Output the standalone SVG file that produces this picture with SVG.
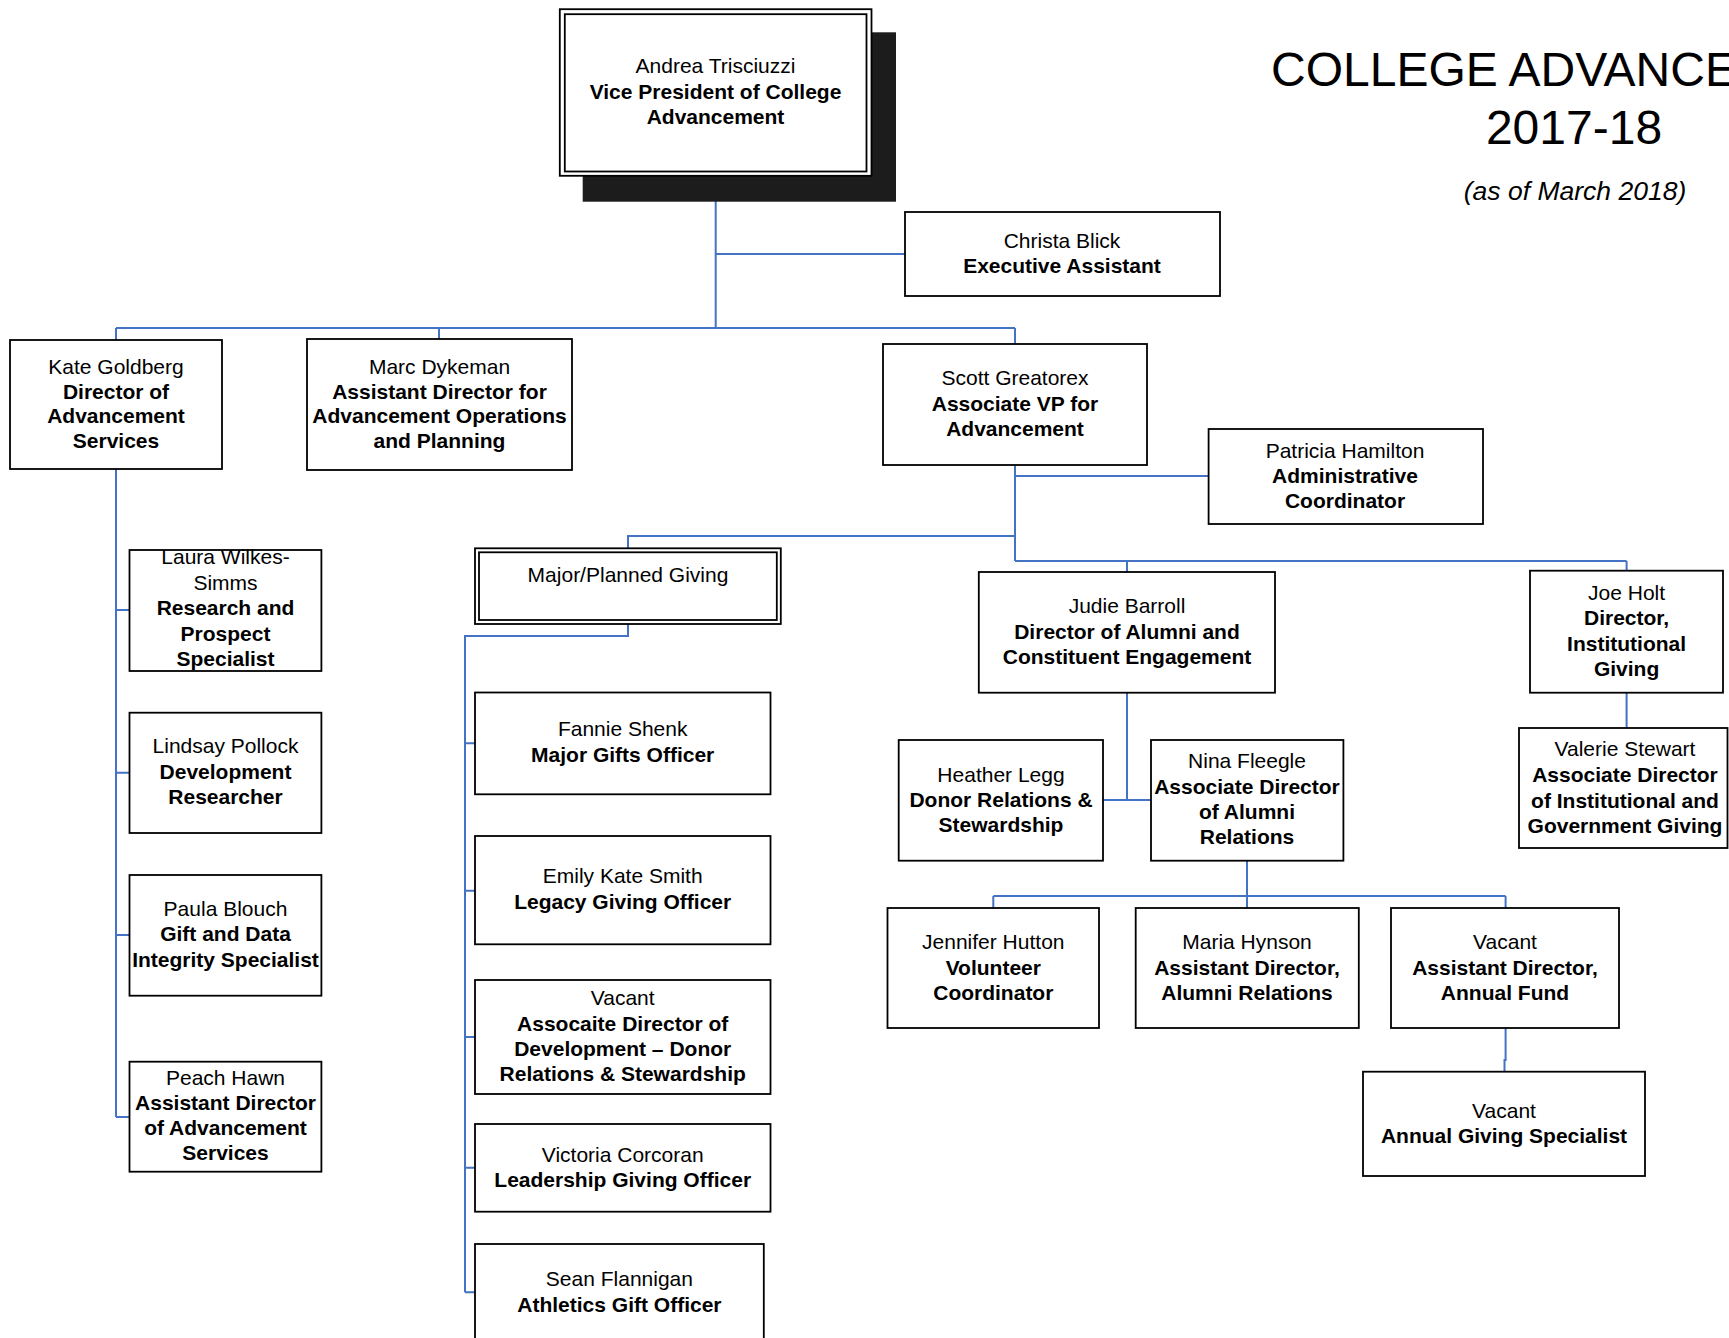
<svg xmlns="http://www.w3.org/2000/svg" width="1729" height="1338" viewBox="0 0 1729 1338">
<style>
.bx{fill:#fff;stroke:#000;stroke-width:1.8}
.in{fill:none;stroke:#000;stroke-width:1.8}
.c{fill:none;stroke:#4472C4;stroke-width:2}
text{font-family:"Liberation Sans",Arial,sans-serif;font-size:21px;text-anchor:middle;fill:#000}
.b{font-weight:bold}
</style>
<rect width="1729" height="1338" fill="#fff"/>
<g id="title">
<text x="1271" y="86" style="font-size:48px;text-anchor:start">COLLEGE ADVANCE</text>
<text x="1574" y="144" style="font-size:48px">2017-18</text>
<text x="1575" y="200" style="font-size:26.5px;font-style:italic">(as of March 2018)</text>
</g>
<g id="connectors">
<path class="c" d="M715.7 177V328M715.7 254H905M116 328H1015M116 328V340M439 328V339M1015 328V344"/>
<path class="c" d="M116 469V1117M116 610H129.5M116 772.7H129.5M116 935H129.5M116 1117H129.5"/>
<path class="c" d="M1015 465V561M1015 476H1208.6M1015 536H628V548.3M1015 561H1626.6M1127 561V572M1626.6 561V570.7"/>
<path class="c" d="M628 624V636H465V1292.3M465 743.3H475M465 890.7H475M465 1037H475M465 1167.7H475M465 1292.3H475"/>
<path class="c" d="M1127 692.7V800M1103 800H1151M1626.6 692.7V728"/>
<path class="c" d="M1247 860.7V896M993.3 896H1505.6M993.3 896V908M1247 896V908M1505.6 896V908M1505.6 1028V1060H1504.5V1071.7"/>
</g>
<g id="vp">
<rect x="582.7" y="32.3" width="313.3" height="169.4" fill="#1c1c1c"/>
<rect class="bx" x="559.8" y="9.2" width="311.7" height="166.6"/>
<rect class="in" x="564.8" y="14.2" width="301.7" height="157.3"/>
<text x="715.5" y="73.3">Andrea Trisciuzzi</text>
<text class="b" x="715.5" y="99">Vice President of College</text>
<text class="b" x="715.5" y="124">Advancement</text>
</g>
<g id="christa">
<rect class="bx" x="905" y="212" width="315" height="84"/>
<text x="1062" y="248">Christa Blick</text>
<text class="b" x="1062" y="272.7">Executive Assistant</text>
</g>
<g id="kate">
<rect class="bx" x="10" y="340" width="212" height="129"/>
<text x="116" y="374">Kate Goldberg</text>
<text class="b" x="116" y="398.5">Director of</text>
<text class="b" x="116" y="423">Advancement</text>
<text class="b" x="116" y="448">Services</text>
</g>
<g id="marc">
<rect class="bx" x="307" y="339" width="265" height="131"/>
<text x="439.5" y="374">Marc Dykeman</text>
<text class="b" x="439.5" y="398.5">Assistant Director for</text>
<text class="b" x="439.5" y="423">Advancement Operations</text>
<text class="b" x="439.5" y="448">and Planning</text>
</g>
<g id="scott">
<rect class="bx" x="883" y="344" width="264" height="121"/>
<text x="1015" y="385">Scott Greatorex</text>
<text class="b" x="1015" y="410.7">Associate VP for</text>
<text class="b" x="1015" y="436">Advancement</text>
</g>
<g id="patricia">
<rect class="bx" x="1208.6" y="429" width="274.4" height="95"/>
<text x="1345" y="458">Patricia Hamilton</text>
<text class="b" x="1345" y="483">Administrative</text>
<text class="b" x="1345" y="508">Coordinator</text>
</g>
<g id="laura">
<rect class="bx" x="129.5" y="550" width="191.9" height="121"/>
<text x="225.5" y="564">Laura Wilkes-</text>
<text x="225.5" y="589.5">Simms</text>
<text class="b" x="225.5" y="615">Research and</text>
<text class="b" x="225.5" y="640.5">Prospect</text>
<text class="b" x="225.5" y="666">Specialist</text>
</g>
<g id="lindsay">
<rect class="bx" x="129.5" y="712.7" width="191.9" height="120.3"/>
<text x="225.5" y="753">Lindsay Pollock</text>
<text class="b" x="225.5" y="779">Development</text>
<text class="b" x="225.5" y="804">Researcher</text>
</g>
<g id="paula">
<rect class="bx" x="129.5" y="875" width="191.9" height="120.7"/>
<text x="225.5" y="915.5">Paula Blouch</text>
<text class="b" x="225.5" y="941">Gift and Data</text>
<text class="b" x="225.5" y="966.5">Integrity Specialist</text>
</g>
<g id="peach">
<rect class="bx" x="129.5" y="1061.7" width="191.9" height="110"/>
<text x="225.5" y="1085">Peach Hawn</text>
<text class="b" x="225.5" y="1110">Assistant Director</text>
<text class="b" x="225.5" y="1135">of Advancement</text>
<text class="b" x="225.5" y="1160">Services</text>
</g>
<g id="mpg">
<rect class="bx" x="475" y="548.3" width="305.8" height="75.7"/>
<rect class="in" x="479" y="552.3" width="297.8" height="67.7"/>
<text x="628" y="581.5">Major/Planned Giving</text>
</g>
<g id="fannie">
<rect class="bx" x="475" y="692.5" width="295.5" height="101.8"/>
<text x="622.7" y="736">Fannie Shenk</text>
<text class="b" x="622.7" y="762">Major Gifts Officer</text>
</g>
<g id="emily">
<rect class="bx" x="475" y="836" width="295.5" height="108.3"/>
<text x="622.7" y="883.3">Emily Kate Smith</text>
<text class="b" x="622.7" y="909">Legacy Giving Officer</text>
</g>
<g id="vacant-add">
<rect class="bx" x="475" y="980" width="295.5" height="114"/>
<text x="622.7" y="1005">Vacant</text>
<text class="b" x="622.7" y="1030.7">Assocaite Director of</text>
<text class="b" x="622.7" y="1056">Development – Donor</text>
<text class="b" x="622.7" y="1081">Relations &amp; Stewardship</text>
</g>
<g id="victoria">
<rect class="bx" x="475" y="1124" width="295.5" height="87.7"/>
<text x="622.7" y="1161.7">Victoria Corcoran</text>
<text class="b" x="622.7" y="1186.7">Leadership Giving Officer</text>
</g>
<g id="sean">
<rect class="bx" x="475" y="1244" width="288.8" height="110"/>
<text x="619.4" y="1286">Sean Flannigan</text>
<text class="b" x="619.4" y="1311.7">Athletics Gift Officer</text>
</g>
<g id="judie">
<rect class="bx" x="978.8" y="572" width="296.2" height="120.7"/>
<text x="1127" y="613">Judie Barroll</text>
<text class="b" x="1127" y="639">Director of Alumni and</text>
<text class="b" x="1127" y="664">Constituent Engagement</text>
</g>
<g id="joe">
<rect class="bx" x="1530" y="570.7" width="193" height="122"/>
<text x="1626.6" y="600">Joe Holt</text>
<text class="b" x="1626.6" y="625">Director,</text>
<text class="b" x="1626.6" y="650.7">Institutional</text>
<text class="b" x="1626.6" y="676">Giving</text>
</g>
<g id="valerie">
<rect class="bx" x="1519" y="728" width="208.5" height="120"/>
<text x="1625" y="756">Valerie Stewart</text>
<text class="b" x="1625" y="782">Associate Director</text>
<text class="b" x="1625" y="808">of Institutional and</text>
<text class="b" x="1625" y="833">Government Giving</text>
</g>
<g id="heather">
<rect class="bx" x="898.7" y="740" width="204.3" height="120.7"/>
<text x="1001" y="781.7">Heather Legg</text>
<text class="b" x="1001" y="806.7">Donor Relations &amp;</text>
<text class="b" x="1001" y="831.7">Stewardship</text>
</g>
<g id="nina">
<rect class="bx" x="1151" y="740" width="192.4" height="120.7"/>
<text x="1247" y="768">Nina Fleegle</text>
<text class="b" x="1247" y="794">Associate Director</text>
<text class="b" x="1247" y="819">of Alumni</text>
<text class="b" x="1247" y="844">Relations</text>
</g>
<g id="jennifer">
<rect class="bx" x="887.5" y="908" width="211.5" height="120"/>
<text x="993.3" y="949">Jennifer Hutton</text>
<text class="b" x="993.3" y="975">Volunteer</text>
<text class="b" x="993.3" y="1000">Coordinator</text>
</g>
<g id="maria">
<rect class="bx" x="1135.7" y="908" width="223.1" height="120"/>
<text x="1247" y="949">Maria Hynson</text>
<text class="b" x="1247" y="975">Assistant Director,</text>
<text class="b" x="1247" y="1000">Alumni Relations</text>
</g>
<g id="vacant-af">
<rect class="bx" x="1391" y="908" width="228" height="120"/>
<text x="1505" y="949">Vacant</text>
<text class="b" x="1505" y="975">Assistant Director,</text>
<text class="b" x="1505" y="1000">Annual Fund</text>
</g>
<g id="vacant-ags">
<rect class="bx" x="1363" y="1071.7" width="282" height="104.3"/>
<text x="1504" y="1117.7">Vacant</text>
<text class="b" x="1504" y="1142.7">Annual Giving Specialist</text>
</g>
</svg>
